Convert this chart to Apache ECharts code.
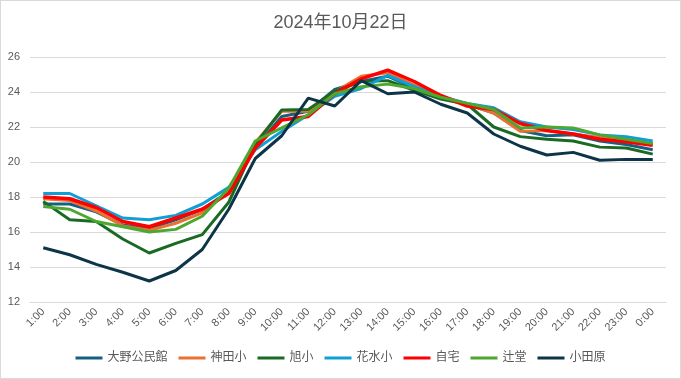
<!DOCTYPE html>
<html><head><meta charset="utf-8">
<script src="https://cdn.jsdelivr.net/npm/echarts@6/dist/echarts.min.js"></script>
<style>html,body{margin:0;padding:0;background:#fff}#c{width:679px;height:377px;border:1px solid #d9d9d9}</style>
</head><body><div id="c"></div>
<script>
const hours = ['1:00','2:00','3:00','4:00','5:00','6:00','7:00','8:00','9:00','10:00','11:00','12:00','13:00','14:00','15:00','16:00','17:00','18:00','19:00','20:00','21:00','22:00','23:00','0:00'];
const seriesNames = ['大野公民館','神田小','旭小','花水小','自宅','辻堂','小田原'];
const ono    = [17.6,17.6,17.15,16.4,16.2,16.7,17.3,18.3,20.8,22.6,22.9,24.15,24.6,24.9,24.2,23.7,23.3,22.8,21.8,21.5,21.55,21.2,21.0,20.7];
const kanda  = [17.9,17.8,17.2,16.35,16.1,16.5,17.1,18.3,21.1,22.9,22.9,24.0,24.9,25.1,24.4,23.7,23.3,22.8,21.75,21.8,21.6,21.4,21.3,21.05];
const asahi  = [17.75,16.7,16.6,15.6,14.8,15.35,15.85,17.7,21.0,22.97,23.0,24.05,24.6,24.65,24.1,23.6,23.3,22.0,21.45,21.3,21.2,20.85,20.8,20.45];
const hanami = [18.2,18.2,17.5,16.8,16.7,16.95,17.6,18.55,20.7,21.75,22.7,23.75,24.2,24.95,24.3,23.75,23.35,23.1,22.3,22.0,21.85,21.55,21.45,21.2];
const home   = [18.0,17.9,17.4,16.6,16.3,16.8,17.3,18.2,20.8,22.4,22.6,23.9,24.75,25.25,24.6,23.8,23.2,23.0,22.2,21.8,21.6,21.3,21.15,20.95];
const tsuji  = [17.45,17.3,16.6,16.3,16.0,16.15,16.9,18.5,21.2,21.95,22.7,23.9,24.3,24.45,24.2,23.7,23.35,23.0,21.95,22.0,21.95,21.55,21.3,21.05];
const odawara= [15.1,14.7,14.15,13.7,13.2,13.8,15.0,17.3,20.2,21.5,23.65,23.2,24.65,23.9,24.0,23.3,22.8,21.6,20.9,20.4,20.55,20.1,20.15,20.15];
const yTicks = [12,14,16,18,20,22,24,26];

const data = [ono,kanda,asahi,hanami,home,tsuji,odawara];
const colors = ['#156082','#E97132','#196B24','#0F9ED5','#FF0000','#4EA72E','#0E3448'];
const widths = [3,3,3,3,3.5,3,3];
const font = '"Liberation Sans","Noto Sans CJK JP",sans-serif';
const chart = echarts.init(document.getElementById('c'));
chart.setOption({
  animation:false,
  color:colors,
  textStyle:{fontFamily:font},
  title:{text:'2024年10月22日',left:'center',top:8,textStyle:{fontSize:18,fontWeight:'normal',color:'#595959',fontFamily:font}},
  grid:{left:29,right:14,top:56,bottom:76},
  legend:{bottom:9,left:'center',icon:'rect',itemWidth:27,itemHeight:3,itemGap:11,
    textStyle:{fontSize:12,color:'#595959',fontFamily:font},data:seriesNames},
  xAxis:{type:'category',data:hours,boundaryGap:true,
    axisLine:{lineStyle:{color:'#d9d9d9'}},axisTick:{show:false},
    axisLabel:{rotate:45,fontSize:11,color:'#595959',margin:8,interval:0,fontFamily:font}},
  yAxis:{type:'value',min:yTicks[0],max:yTicks[yTicks.length-1],interval:2,
    axisLine:{show:false},axisTick:{show:false},
    splitLine:{lineStyle:{color:'#d9d9d9'}},
    axisLabel:{fontSize:11,color:'#595959',margin:10,fontFamily:font}},
  series:seriesNames.map((n,i)=>({name:n,type:'line',data:data[i],symbol:'none',
    lineStyle:{width:widths[i],color:colors[i]},itemStyle:{color:colors[i]}}))
});
</script></body></html>
